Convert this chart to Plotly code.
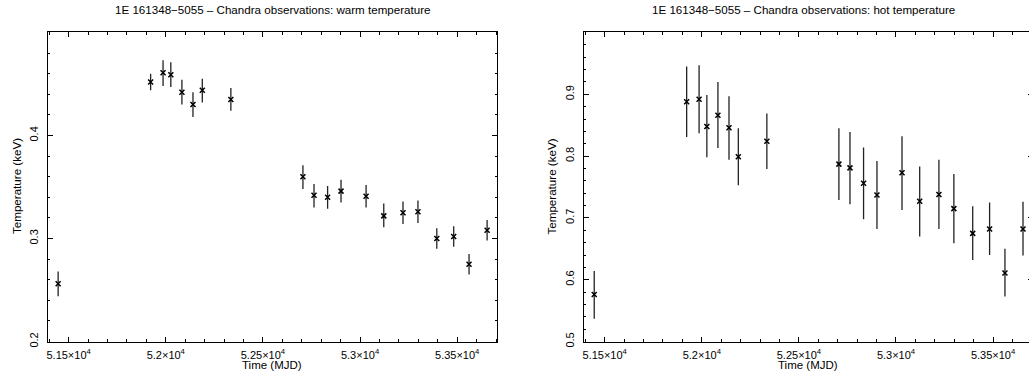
import plotly.graph_objects as go

# Observation epochs (MJD)
mjd = [51446, 51922, 51986, 52026, 52083, 52140, 52188, 52335,
       52706, 52763, 52833, 52902, 53031, 53122, 53221, 53298,
       53395, 53482, 53561, 53654]

# Warm component temperature (keV) with upper / lower errors
warm_t = [0.256, 0.452, 0.461, 0.459, 0.442, 0.430, 0.444, 0.435,
          0.360, 0.342, 0.340, 0.346, 0.341, 0.322, 0.325, 0.326,
          0.300, 0.302, 0.275, 0.308]
warm_hi = [0.012, 0.008, 0.012, 0.012, 0.012, 0.012, 0.011, 0.011,
           0.011, 0.011, 0.011, 0.011, 0.011, 0.012, 0.011, 0.011,
           0.010, 0.010, 0.010, 0.010]
warm_lo = [0.012, 0.008, 0.013, 0.012, 0.012, 0.012, 0.012, 0.011,
           0.012, 0.012, 0.011, 0.011, 0.011, 0.011, 0.011, 0.011,
           0.010, 0.010, 0.010, 0.010]

# Hot component temperature (keV) with upper / lower errors
hot_t = [0.576, 0.888, 0.892, 0.848, 0.866, 0.846, 0.799, 0.824,
         0.787, 0.781, 0.756, 0.737, 0.773, 0.727, 0.738, 0.715,
         0.675, 0.682, 0.611, 0.682]
hot_hi = [0.038, 0.057, 0.055, 0.051, 0.054, 0.051, 0.046, 0.045,
          0.058, 0.058, 0.058, 0.055, 0.059, 0.056, 0.056, 0.056,
          0.044, 0.043, 0.039, 0.044]
hot_lo = [0.039, 0.057, 0.055, 0.050, 0.053, 0.052, 0.046, 0.045,
          0.058, 0.059, 0.058, 0.055, 0.060, 0.057, 0.056, 0.056,
          0.043, 0.042, 0.038, 0.043]

x_tickvals = [51500, 52000, 52500, 53000, 53500]
x_ticktext = ["5.15×10<sup>4</sup>", "5.2×10<sup>4</sup>", "5.25×10<sup>4</sup>",
              "5.3×10<sup>4</sup>", "5.35×10<sup>4</sup>"]

warm_ticks = [0.2, 0.3, 0.4]
hot_ticks = [0.5, 0.6, 0.7, 0.8, 0.9]

titles = ["1E 161348−5055 – Chandra observations: warm temperature",
          "1E 161348−5055 – Chandra observations: hot temperature"]

W, H = 1034, 381
FONT = "Liberation Sans, Arial, Helvetica, sans-serif"

def px_x(p):
    return p / W

def px_y(p):
    return (H - p) / H

fig = go.Figure()

def add_panel(idx, t, hi, lo):
    xa = "x" if idx == 1 else "x2"
    ya = "y" if idx == 1 else "y2"
    fig.add_trace(go.Scatter(
        x=mjd, y=t, xaxis=xa, yaxis=ya, mode="markers",
        marker=dict(symbol="x-thin", size=5, color="black",
                    line=dict(width=1.5, color="black")),
        error_y=dict(type="data", array=hi, arrayminus=lo, symmetric=False,
                     color="#222222", thickness=1.3, width=0),
        showlegend=False, hoverinfo="x+y",
    ))

add_panel(1, warm_t, warm_hi, warm_lo)
add_panel(2, hot_t, hot_hi, hot_lo)

def axis_style(minor_dtick, minor_tick0):
    return dict(
        showline=True, linecolor="black", linewidth=1, mirror="allticks",
        ticks="inside", ticklen=5, tickwidth=1, tickcolor="black",
        showgrid=False, zeroline=False,
        tickfont=dict(family=FONT, size=11, color="black"),
        minor=dict(ticks="inside", ticklen=2.5, tickwidth=1, tickcolor="black",
                   showgrid=False, dtick=minor_dtick, tick0=minor_tick0),
    )

ydom = [px_y(347), px_y(33)]
left_dom = [px_x(46.7), px_x(496.7)]
right_dom = [px_x(583.3), px_x(1033.1)]
xrange = [51392, 53706]

fig.update_layout(
    width=W, height=H, autosize=False,
    margin=dict(l=0, r=0, t=0, b=0, pad=0),
    paper_bgcolor="white", plot_bgcolor="white",
    font=dict(family=FONT, color="black"),
    xaxis=dict(domain=left_dom, range=xrange, anchor="y",
               tickmode="array", tickvals=x_tickvals, ticktext=x_ticktext,
               ticklabelstandoff=3, **axis_style(100, 51500)),
    yaxis=dict(domain=ydom, range=[0.2, 0.5], anchor="x",
               tickmode="array", tickvals=warm_ticks,
               ticktext=[f"{v:.1f}" for v in warm_ticks],
               tickangle=-90, ticklabelstandoff=4, **axis_style(0.02, 0.2)),
    xaxis2=dict(domain=right_dom, range=xrange, anchor="y2",
                tickmode="array", tickvals=x_tickvals, ticktext=x_ticktext,
                ticklabelstandoff=3, **axis_style(100, 51500)),
    yaxis2=dict(domain=ydom, range=[0.5, 1.0], anchor="x2",
                tickmode="array", tickvals=hot_ticks,
                ticktext=[f"{v:.1f}" for v in hot_ticks],
                tickangle=-90, ticklabelstandoff=4, **axis_style(0.02, 0.5)),
)

# Panel titles and axis titles placed in pixel coordinates
annotations = []
for cx, text in zip([271.7, 803.0], titles):
    annotations.append(dict(text=text, x=px_x(cx), y=px_y(10), xref="paper", yref="paper",
                            xanchor="center", yanchor="middle", showarrow=False,
                            font=dict(family=FONT, size=11.6, color="black")))
for cx in [271.7, 808.2]:
    annotations.append(dict(text="Time (MJD)", x=px_x(cx), y=px_y(371), xref="paper", yref="paper",
                            xanchor="center", yanchor="middle", showarrow=False,
                            font=dict(family=FONT, size=11.5, color="black")))
for cx in [15, 551]:
    annotations.append(dict(text="Temperature (keV)", x=px_x(cx), y=px_y(189), xref="paper", yref="paper",
                            xanchor="center", yanchor="middle", showarrow=False, textangle=-90,
                            font=dict(family=FONT, size=11.6, color="black")))
fig.update_layout(annotations=annotations)

fig.write_html(
    "out.html",
    config={"displayModeBar": False},
    post_script="document.documentElement.style.overflow='hidden';document.body.style.overflow='hidden';",
)
